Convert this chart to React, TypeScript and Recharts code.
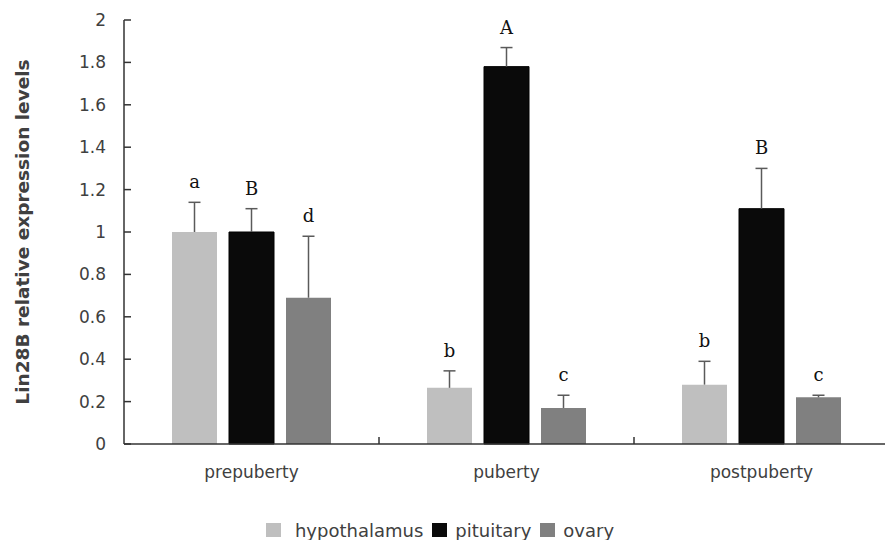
import React from 'react';
import { BarChart, Bar, XAxis, YAxis, Legend } from 'recharts';

const categories = ['prepuberty', 'puberty', 'postpuberty'];
const hypothalamus = [1.0, 0.265, 0.28];
const hypothalamusErr = [0.14, 0.08, 0.11];
const hypothalamusSig = ['a', 'b', 'b'];
const pituitary = [1.0, 1.78, 1.11];
const pituitaryErr = [0.11, 0.09, 0.19];
const pituitarySig = ['B', 'A', 'B'];
const ovary = [0.69, 0.17, 0.22];
const ovaryErr = [0.29, 0.06, 0.01];
const ovarySig = ['d', 'c', 'c'];
const yTicks = [0, 0.2, 0.4, 0.6, 0.8, 1, 1.2, 1.4, 1.6, 1.8, 2];
const seriesNames = ['hypothalamus', 'pituitary', 'ovary'];
const seriesColors = ['#BFBFBF', '#0A0A0A', '#808080'];

const data = categories.map((c, i) => ({
  name: c,
  hypothalamus: hypothalamus[i],
  hypErr: hypothalamusErr[i],
  pituitary: pituitary[i],
  pitErr: pituitaryErr[i],
  ovary: ovary[i],
  ovaErr: ovaryErr[i],
}));

const FONT = '"DejaVu Sans", Verdana, sans-serif';
const TEXT = '#404040';
const AXIS = '#333333';
const X_TICK_MARGIN = 22;
const SIG_FONT = "'DejaVu Serif', 'Liberation Serif', serif";

const makeErrShape = (letters: string[]) => (props: any) => {
  const { x, y, width, height, index } = props;
  if (x == null || y == null) return <g />;
  const cx = x + width / 2;
  return (
    <g>
      <line x1={cx} x2={cx} y1={y + height} y2={y} stroke="#5a5a5a" strokeWidth={1.5} />
      <line x1={cx - 6} x2={cx + 6} y1={y} y2={y} stroke="#5a5a5a" strokeWidth={1.5} />
      <text
        x={cx}
        y={y - 14}
        textAnchor="middle"
        style={{ fontFamily: SIG_FONT, fontSize: 18, fill: '#111' }}
      >
        {letters[index]}
      </text>
    </g>
  );
};

const CategoryTick = (props: any) => {
  const { x, y, payload, index } = props;
  const axisY = y - X_TICK_MARGIN;
  const off = payload && payload.offset != null ? payload.offset : 0;
  return (
    <g>
      {index > 0 && off > 0 ? (
        <line x1={x - off} x2={x - off} y1={axisY} y2={axisY - 7} stroke={AXIS} strokeWidth={1.5} />
      ) : null}
      <text x={x} y={y} dy="0.71em" textAnchor="middle" fill={TEXT} fontSize={17} fontFamily={FONT}>
        {payload.value}
      </text>
    </g>
  );
};

const LegendContent = () => (
  <div
    style={{
      display: 'flex',
      justifyContent: 'center',
      alignItems: 'center',
      height: 36,
      paddingTop: 16,
      boxSizing: 'border-box',
      fontFamily: FONT,
      fontSize: 18,
      color: TEXT,
    }}
  >
    {seriesNames.map((n, i) => (
      <div key={n} style={{ display: 'flex', alignItems: 'center', marginRight: 9 }}>
        <span
          style={{
            display: 'inline-block',
            width: 15,
            height: 14,
            background: seriesColors[i],
            marginRight: i === 0 ? 14 : 8,
          }}
        />
        <span>{n}</span>
      </div>
    ))}
  </div>
);

const YTitle = (props: any) => {
  const vb = props.viewBox || { x: 0, y: 20, width: 124, height: 424 };
  const cx = vb.x + 22;
  const cy = vb.y + vb.height / 2;
  return (
    <text
      x={cx}
      y={cy}
      transform={`rotate(-90, ${cx}, ${cy})`}
      textAnchor="middle"
      dominantBaseline="central"
      fill={TEXT}
      fontSize={18.5}
      fontWeight="bold"
      fontFamily={FONT}
    >
      Lin28B relative expression levels
    </text>
  );
};

export default function App() {
  return (
    <div style={{ position: 'absolute', left: 0, top: 0, width: 885, height: 540, overflow: 'hidden', background: '#fff' }}>
      <BarChart
        width={890}
        height={540}
        data={data}
        margin={{ top: 20, right: 1, left: 0, bottom: 0 }}
        barSize={45}
        barGap={12}
      >
        <XAxis
          dataKey="name"
          height={60}
          tickSize={0}
          tickMargin={X_TICK_MARGIN}
          tickLine={false}
          axisLine={{ stroke: AXIS, strokeWidth: 1.5 }}
          tick={<CategoryTick />}
          interval={0}
        />
        <YAxis
          width={124}
          domain={[0, 2]}
          ticks={yTicks}
          tickSize={-7}
          tickMargin={25}
          interval={0}
          axisLine={{ stroke: AXIS, strokeWidth: 1.5 }}
          tickLine={{ stroke: AXIS, strokeWidth: 1.5 }}
          tick={{ fill: TEXT, fontSize: 17, fontFamily: FONT }}
          tickFormatter={(v: number) => String(v)}
          label={{ content: <YTitle /> }}
        />
        <Legend verticalAlign="bottom" content={<LegendContent />} />
        <Bar dataKey="hypothalamus" name="hypothalamus" stackId="h" fill={seriesColors[0]} isAnimationActive={false} />
        <Bar dataKey="hypErr" stackId="h" fill="none" legendType="none" shape={makeErrShape(hypothalamusSig)} isAnimationActive={false} />
        <Bar dataKey="pituitary" name="pituitary" stackId="p" fill={seriesColors[1]} stroke="#000" isAnimationActive={false} />
        <Bar dataKey="pitErr" stackId="p" fill="none" legendType="none" shape={makeErrShape(pituitarySig)} isAnimationActive={false} />
        <Bar dataKey="ovary" name="ovary" stackId="o" fill={seriesColors[2]} isAnimationActive={false} />
        <Bar dataKey="ovaErr" stackId="o" fill="none" legendType="none" shape={makeErrShape(ovarySig)} isAnimationActive={false} />
      </BarChart>
    </div>
  );
}
